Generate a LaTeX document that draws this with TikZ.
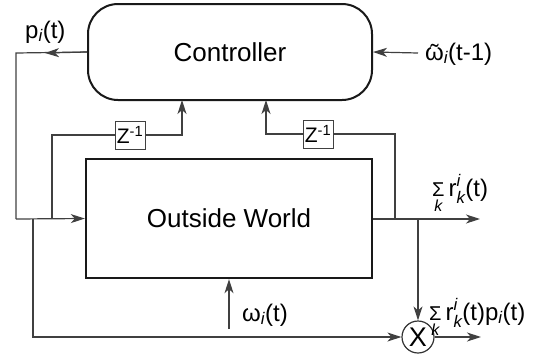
\documentclass[tikz,border=0pt]{standalone}
\usepackage{amsmath}
\usepackage{fontspec}
\setmainfont{Liberation Sans}
\usetikzlibrary{arrows.meta}
\newcommand{\lbl}{\fontsize{24}{28}\selectfont}
% summation sign with its index set underneath
\newcommand{\sumk}{\vtop{\offinterlineskip\halign{\hfil##\hfil\cr
  \fontsize{20}{20}\selectfont Σ\cr\noalign{\kern4pt}
  \fontsize{16}{16}\selectfont\itshape k\cr}}}
\newcommand{\wtilde}{\ooalign{ω\cr\hidewidth\raisebox{-0.05em}{˜}\hidewidth\cr}}
\begin{document}
\begin{tikzpicture}[x=1pt,y=-1pt,
  wire/.style={line width=1.2pt,draw=black!75},
  arr/.style={wire,-{Stealth[length=14pt,width=9pt,inset=4pt]}},
  bigbox/.style={draw=black!90,line width=2.4pt,inner sep=0pt},
  delay/.style={draw=black!75,line width=1pt,minimum width=30pt,minimum height=28pt,inner sep=0pt,font=\fontsize{21}{21}\selectfont},
  lab/.style={inner sep=0pt,font=\lbl}]
\useasboundingbox (0,0) rectangle (552,354);

% blocks
\node[bigbox,line width=2pt,rounded corners=30pt,minimum width=284pt,minimum height=96pt,
  font=\fontsize{26}{30}\selectfont] (ctrl) at (230,52) {Controller};
\node[bigbox,minimum width=286pt,minimum height=119pt,font=\fontsize{26}{30}\selectfont]
  (world) at (229,218.5) {Outside World};
\node[delay] (zl) at (130,135) {Z\textsuperscript{-1}};
\node[delay] (zr) at (318,134) {Z\textsuperscript{-1}};
\node[draw=black!80,line width=1.2pt,circle,minimum size=32pt,inner sep=0pt,
  font=\fontsize{27}{27}\selectfont] (mult) at (418,337) {X};

% junction points
\coordinate (pl) at (16,53);
\coordinate (jl) at (16,219);
\coordinate (jm) at (33,219);
\coordinate (jz) at (52,219);
\coordinate (jr) at (395,219);
\coordinate (jd) at (418,219);
\coordinate (pout) at (45,53);
\coordinate (wout) at (480,219);
\coordinate (mout) at (481,337);
\coordinate (win) at (418,53);
\coordinate (omin) at (229,329);

% controller output p_i(t)
\draw[wire] (ctrl.west) -- (pl) -- (jl);
\draw[arr] (ctrl.west) -- (pout);
\draw[arr] (jl) -- (world.west);
\node[lab,anchor=base west] (plab) at (25,38) {p$_{\textit{i}}$(t)};

% estimated input to controller
\draw[arr] (win) -- (ctrl.east);
\node[lab,anchor=base west] (wlab) at (425,60) {\wtilde$_{\textit{i}}$(t-1)};

% left delay loop
\draw[wire] (jz) |- (zl.west);
\draw[arr] (zl.east) -| (182,100);

% right delay loop
\draw[wire] (world.east |- jr) -- (jr);
\draw[wire] (jr) |- (zr.east);
\draw[arr] (zr.west) -| (266,100);

% world output
\draw[arr] (world.east |- jr) -- (wout);
\node[lab,anchor=base west] (rlab) at (432,196) {\sumk\,r$^{\textit{i}}_{\textit{k}}$(t)};

% product
\draw[arr] (jd) -- (mult.north);
\draw[arr] (jm) |- (mult.west);
\draw[arr] (mult.east) -- (mout);
\node[lab,anchor=base west] (plabel) at (429,320) {\sumk\,r$^{\textit{i}}_{\textit{k}}$(t)p$_{\textit{i}}$(t)};

% disturbance input
\draw[arr] (omin) -- (world.south -| omin);
\node[lab,anchor=base west] (olab) at (242,321) {ω$_{\textit{i}}$(t)};
\end{tikzpicture}
\end{document}
